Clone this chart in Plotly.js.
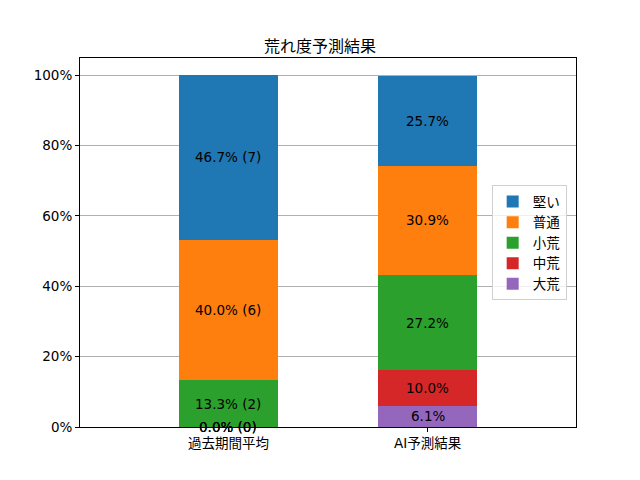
<!DOCTYPE html>
<html>
<head>
<meta charset="utf-8">
<script src="https://cdn.plot.ly/plotly-3.0.1.min.js"></script>
<style>html,body{margin:0;padding:0;background:#fff;}#chart{width:640px;height:480px;}</style>
</head>
<body>
<div id="chart"></div>
<script>
const categories = ['過去期間平均', 'AI予測結果'];
const seriesNames = ['大荒', '中荒', '小荒', '普通', '堅い'];
const seriesColors = ['#9467bd', '#d62728', '#2ca02c', '#ff7f0e', '#1f77b4'];
const valDaiare = [0.0, 6.1];
const valChuare = [0.0, 10.0];
const valShoare = [13.3, 27.2];
const valFutsu = [40.0, 30.9];
const valKatai = [46.7, 25.7];
const pastCounts = [0, 0, 2, 6, 7];
const yTicks = [0, 20, 40, 60, 80, 100];

const seriesValues = [valDaiare, valChuare, valShoare, valFutsu, valKatai];
const fontFam = 'DejaVu Sans, Noto Sans CJK JP, sans-serif';

const traces = seriesNames.map((name, i) => ({
  type: 'bar',
  name: name,
  x: categories,
  y: seriesValues[i],
  width: 0.5,
  marker: { color: seriesColors[i], line: { width: 0 } },
  hoverinfo: 'skip'
}));

const annotations = [];
categories.forEach((cat, ci) => {
  let base = 0;
  seriesValues.forEach((vals, si) => {
    const v = vals[ci];
    const label = ci === 0 ? v.toFixed(1) + '% (' + pastCounts[si] + ')' : v.toFixed(1) + '%';
    annotations.push({
      x: cat, y: base + v / 2, xref: 'x', yref: 'y',
      text: label, showarrow: false,
      font: { family: fontFam, size: 13.5, color: '#000' }
    });
    base += v;
  });
});

const layout = {
  width: 640, height: 480,
  margin: { l: 80, r: 64, t: 58, b: 53 },
  paper_bgcolor: '#fff', plot_bgcolor: '#fff',
  barmode: 'stack',
  title: { text: '荒れ度予測結果', font: { family: fontFam, size: 16, color: '#000' }, x: 0.5, xanchor: 'center', y: 1 - 46 / 480, yanchor: 'middle' },
  xaxis: {
    range: [-0.745, 1.745], showline: true, mirror: true, linecolor: '#000', linewidth: 1,
    ticks: 'outside', ticklen: 4, tickcolor: '#000', showgrid: false, zeroline: false,
    tickfont: { family: fontFam, size: 13.5, color: '#000' }
  },
  yaxis: {
    range: [0, 104.9], showline: true, mirror: true, linecolor: '#000', linewidth: 1,
    ticks: 'outside', ticklen: 4, tickcolor: '#000',
    tickvals: yTicks, ticktext: yTicks.map(v => v + '%'),
    showgrid: true, gridcolor: '#b0b0b0', gridwidth: 1, zeroline: false,
    tickfont: { family: fontFam, size: 13.5, color: '#000' }
  },
  legend: {
    x: 0.83, y: 0.655, xanchor: 'left', yanchor: 'top',
    traceorder: 'reversed', bgcolor: 'rgba(255,255,255,0.8)', bordercolor: '#d0d0d0', borderwidth: 1,
    font: { family: fontFam, size: 13.5, color: '#000' }, itemwidth: 30
  },
  annotations: annotations,
  showlegend: true
};

Plotly.newPlot('chart', traces, layout, { displayModeBar: false, staticPlot: true });
</script>
</body>
</html>
